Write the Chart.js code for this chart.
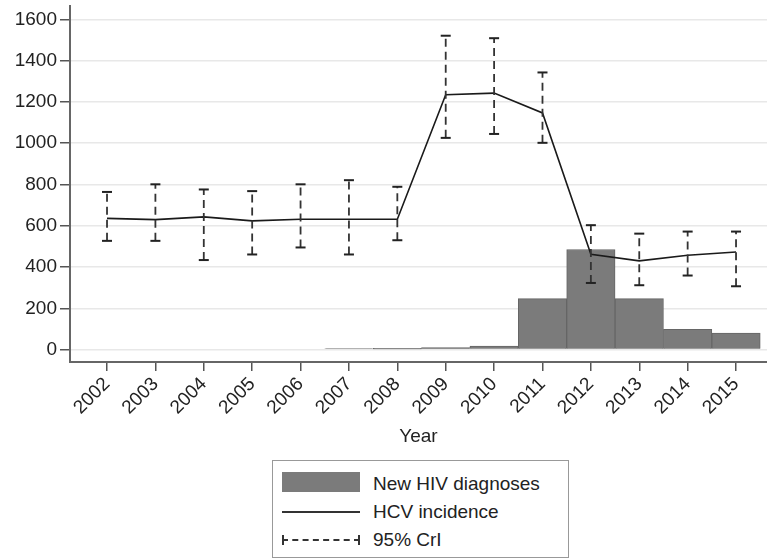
<!DOCTYPE html>
<html>
  <head>
    <script src="https://cdn.jsdelivr.net/npm/chart.js"></script>
    <style>
      body { margin: 0; background: #fff; font-family: "Liberation Sans", Arial, sans-serif; }
      #wrap { position: relative; width: 767px; height: 559px; }
      #legend {
        position: absolute; left: 272px; top: 460px; width: 297px; height: 98px;
        box-sizing: border-box; border: 1px solid #999; background: #fff;
        font-size: 19px; color: #222; padding-top: 9px;
      }
      .row { position: relative; height: 28px; line-height: 28px; padding-left: 100px; }
      .sw { position: absolute; left: 9px; width: 78px; }
      .box { top: 2px; height: 20px; background: #7b7b7b; }
      .solid { top: 13px; border-top: 2px solid #333; }
      .dash { top: 13px; border-top: 2px dashed #333; }
      .dash:before, .dash:after { content: ""; position: absolute; top: -6px; width: 2px; height: 10px; background: #333; }
      .dash:before { left: 0; }
      .dash:after { right: 0; }
    </style>
  </head>
  <body>
    <div id="wrap">
      <canvas id="chart" width="767" height="559"></canvas>
      <div id="legend">
        <div class="row"><span class="sw box"></span>New HIV diagnoses</div>
        <div class="row"><span class="sw solid"></span>HCV incidence</div>
        <div class="row"><span class="sw dash"></span>95% CrI</div>
      </div>
    </div>

    <script>
      const years = [2002, 2003, 2004, 2005, 2006, 2007, 2008, 2009, 2010, 2011, 2012, 2013, 2014, 2015];
      const hivDiagnoses = [0, 0, 0, 0, 0, 5, 6, 10, 17, 247, 485, 247, 98, 80];
      const hcvIncidence = [636, 630, 643, 624, 632, 632, 632, 1235, 1243, 1147, 462, 430, 457, 473];
      const crLower = [527, 527, 434, 461, 495, 461, 530, 1026, 1045, 1002, 323, 312, 359, 307];
      const crUpper = [764, 801, 776, 768, 801, 821, 789, 1521, 1509, 1343, 603, 562, 572, 572];
      const yTicks = [0, 200, 400, 600, 800, 1000, 1200, 1400, 1600];

      const font = { family: "'Liberation Sans', Arial, sans-serif", size: 19 };

      // one little dashed line per year for the credible interval, caps from the point style
      const errorSets = years.map((yr, i) => ({
        type: "line",
        data: [{ x: yr, y: crLower[i] }, { x: yr, y: crUpper[i] }],
        borderColor: "#333",
        borderWidth: 1.8,
        borderDash: [8, 5],
        pointStyle: "line",
        pointRadius: 5,
        pointBorderWidth: 2,
        pointBorderColor: "#222",
        order: 0,
      }));

      // drop the label overhang padding so the plot area sits where the original does
      const noPad = (s) => { s.paddingTop = 0; s.paddingBottom = 0; s.paddingLeft = 0; s.paddingRight = 0; };

      new Chart(document.getElementById("chart"), {
        type: "bar",
        data: {
          datasets: [
            ...errorSets,
            {
              type: "line",
              label: "HCV incidence",
              data: years.map((x, i) => ({ x: x, y: hcvIncidence[i] })),
              borderColor: "#1a1a1a",
              borderWidth: 1.6,
              pointRadius: 0,
              order: 1,
            },
            {
              label: "New HIV diagnoses",
              data: years.map((x, i) => ({ x: x, y: hivDiagnoses[i] })),
              backgroundColor: "#7b7b7b",
              borderColor: "#666",
              borderWidth: 1,
              barPercentage: 1,
              categoryPercentage: 1,
              order: 2,
            },
          ],
        },
        options: {
          responsive: false,
          animation: false,
          layout: { autoPadding: false, padding: { top: 6, right: 0, bottom: 111, left: 0 } },
          plugins: { legend: { display: false }, tooltip: { enabled: false } },
          scales: {
            x: {
              type: "linear",
              min: 2001.235,
              max: 2015.64,
              offset: false,
              afterBuildTicks: (s) => { s.ticks = years.map((v) => ({ value: v })); },
              afterFit: (s) => { s.height = 86; noPad(s); },
              grid: { offset: false, drawOnChartArea: false, tickLength: 9, tickColor: "#555", lineWidth: 1.5 },
              border: { color: "#666", width: 2 },
              ticks: {
                font: font, color: "#222", maxRotation: 45, minRotation: 45, autoSkip: false, padding: 2,
                callback: (v) => String(v),
              },
              title: { display: true, text: "Year", font: font, color: "#222", padding: { top: 0, bottom: 0 } },
            },
            y: {
              min: -60,
              max: 1665,
              afterBuildTicks: (s) => { s.ticks = yTicks.map((v) => ({ value: v })); },
              afterFit: (s) => { s.width = 70; noPad(s); },
              grid: { color: "#e8e8e8", lineWidth: 1.5, tickLength: 10, tickColor: "#555" },
              border: { color: "#666", width: 2 },
              ticks: { font: font, color: "#222", padding: 3, callback: (v) => String(v) },
            },
          },
        },
      });
    </script>
  </body>
</html>
